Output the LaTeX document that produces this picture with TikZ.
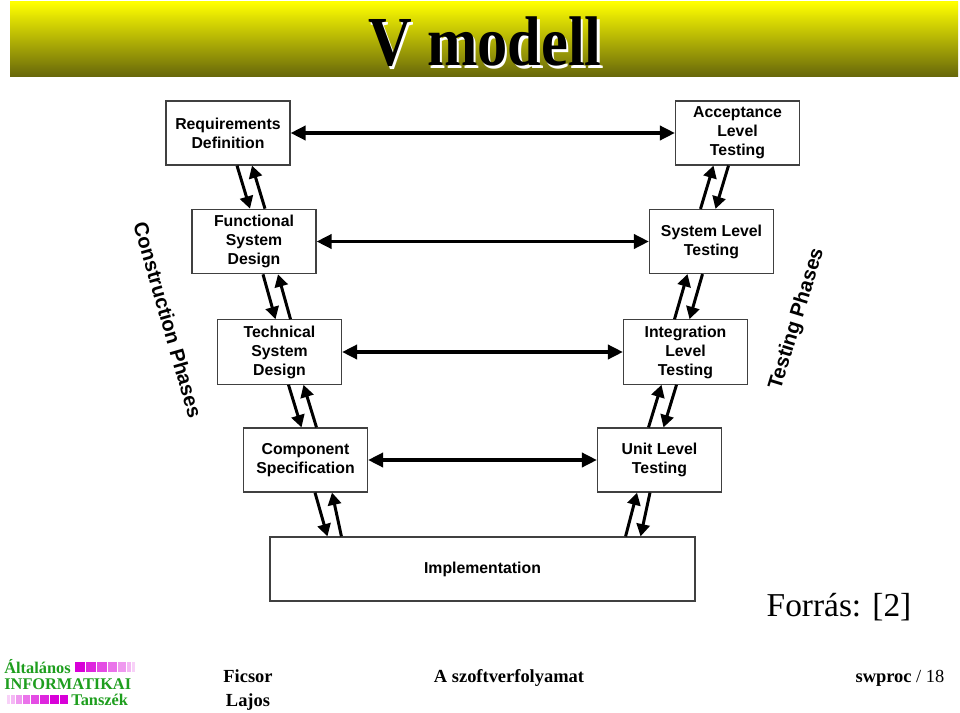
\documentclass[tikz,border=0pt]{standalone}
\usepackage{fontspec}
\setmainfont{Liberation Serif}
\newfontfamily\arialfont{Liberation Sans}
\usetikzlibrary{arrows.meta, calc}
\definecolor{vyellow}{HTML}{FFFF00}
\definecolor{vmiddle}{HTML}{E4E400}
\definecolor{volive}{HTML}{66660A}
\definecolor{logogreen}{HTML}{1E9E1E}
\definecolor{logomag}{HTML}{D800D8}

\begin{document}
\begin{tikzpicture}[x=0.02cm, y=-0.02cm,
  phase/.style={draw=black!75, line width=0.7pt, fill=white, minimum width=2.48cm,
                minimum height=1.28cm, align=center,
                font=\arialfont\bfseries\fontsize{9}{10.8}\selectfont},
  harr/.style={{Triangle[length=8.5pt,width=8pt]}-{Triangle[length=8.5pt,width=8pt]}, line width=1.9pt},
  varr/.style={-{Triangle[length=7pt,width=7.5pt]}, line width=1.7pt},
  side/.style={font=\arialfont\bfseries\fontsize{11.5}{13}\selectfont},
  foot/.style={font=\bfseries\fontsize{10.5}{13.5}\selectfont, align=center},
  logo/.style={font=\bfseries\fontsize{9.3}{10}\selectfont, text=logogreen, inner sep=0pt, anchor=west}
]
  \fill[white] (0,0) rectangle (960,713);
  \useasboundingbox (0,0) rectangle (960,713);

  % title bar
  \shade[top color=vyellow, middle color=vmiddle, bottom color=volive] (10,2) rectangle (958,77);
  \node[text=white, font=\bfseries\fontsize{40}{40}\selectfont] at (487.5,44.5) {\scalebox{0.86}[1]{V modell}};
  \node[font=\bfseries\fontsize{40}{40}\selectfont] (title) at (485,42) {\scalebox{0.86}[1]{V modell}};

  \node[phase] (req) at (228,133) {Requirements\\Definition};
  \node[phase] (fun) at (254,241.5) {Functional\\System\\Design};
  \node[phase] (tec) at (279.5,352) {Technical\\System\\Design};
  \node[phase] (com) at (305.5,460) {Component\\Specification};
  \node[phase, minimum width=8.5cm] (imp) at (482.5,569) {Implementation};
  \node[phase] (acc) at (737.5,133) {Acceptance\\Level\\Testing};
  \node[phase] (sys) at (711.5,241.5) {System Level\\Testing};
  \node[phase] (int) at (685.5,352) {Integration\\Level\\Testing};
  \node[phase] (uni) at (659.5,460) {Unit Level\\Testing};

  \draw[harr] (req) -- (acc);
  \draw[harr] (fun) -- (sys);
  \draw[harr] (tec) -- (int);
  \draw[harr] (com) -- (uni);

  \draw[varr] ($(req.south)+(9,0)$) -- ($(fun.north)+(-4,0)$);
  \draw[varr] ($(fun.north)+(11,0)$) -- ($(req.south)+(24,0)$);
  \draw[varr] ($(fun.south)+(9,0)$) -- ($(tec.north)+(-4,0)$);
  \draw[varr] ($(tec.north)+(11,0)$) -- ($(fun.south)+(24,0)$);
  \draw[varr] ($(tec.south)+(9,0)$) -- ($(com.north)+(-4,0)$);
  \draw[varr] ($(com.north)+(11,0)$) -- ($(tec.south)+(24,0)$);
  \draw[varr] ($(com.south)+(9.5,0)$) -- ($(imp.north west)+(58,0)$);
  \draw[varr] ($(imp.north west)+(72,0)$) -- ($(com.south)+(26.5,0)$);

  \draw[varr] ($(acc.south)+(-9,0)$) -- ($(sys.north)+(4,0)$);
  \draw[varr] ($(sys.north)+(-11,0)$) -- ($(acc.south)+(-24,0)$);
  \draw[varr] ($(sys.south)+(-9,0)$) -- ($(int.north)+(4,0)$);
  \draw[varr] ($(int.north)+(-11,0)$) -- ($(sys.south)+(-24,0)$);
  \draw[varr] ($(int.south)+(-9,0)$) -- ($(uni.north)+(4,0)$);
  \draw[varr] ($(uni.north)+(-11,0)$) -- ($(int.south)+(-24,0)$);
  \draw[varr] ($(uni.south)+(-9.5,0)$) -- ($(imp.north east)+(-55,0)$);
  \draw[varr] ($(imp.north east)+(-70,0)$) -- ($(uni.south)+(-22.5,0)$);

  \node[side, rotate=-74] (cons) at (168,320) {Construction Phases};
  \node[side, rotate=73] (test) at (797,319) {Testing Phases};

  \node[font=\fontsize{19}{22}\selectfont] (src) at (839,607) {Forrás: [2]};

  % footer
  \foreach \x/\w/\c in {75/10/100, 86/10/85, 97/10/70, 108/9/55, 118/8/40, 127/4/28, 132/3/18}
    \fill[logomag!\c] (\x,662) rectangle ++(\w,10);
  \foreach \x/\w/\c in {7/3/18, 11/4/28, 16/6/40, 23/7/55, 31/8/70, 40/9/85, 50/9/100, 60/8/100}
    \fill[logomag!\c] (\x,695) rectangle ++(\w,9);
  \node[logo] (lg1) at (4,667) {Általános};
  \node[logo] (lg2) at (4,684) {INFORMATIKAI};
  \node[logo] (lg3) at (71,700) {Tanszék};

  \node[foot] (author) at (248,690) {Ficsor\\Lajos};
  \node[foot] (course) at (509,678) {A szoftverfolyamat};
  \node[foot] (page) at (900,678) {swproc {\mdseries / 18}};
\end{tikzpicture}
\end{document}
